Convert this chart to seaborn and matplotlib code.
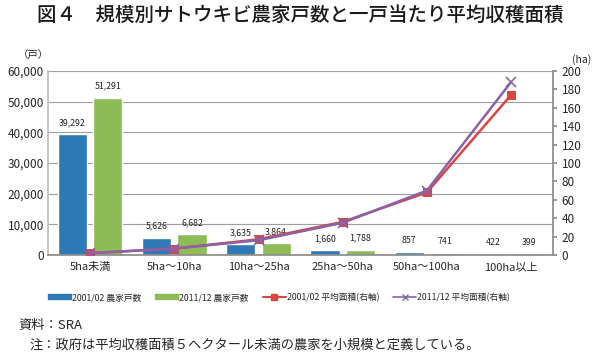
import numpy as np
import pandas as pd
import seaborn as sns
import matplotlib.pyplot as plt
from matplotlib.lines import Line2D
from matplotlib.patches import Patch

sns.set_theme(style="white")
plt.rcParams['font.family'] = ['Noto Sans CJK JP', 'DejaVu Sans']

categories = ["5ha未満", "5ha～10ha", "10ha～25ha", "25ha～50ha", "50ha～100ha", "100ha以上"]
farms_0102 = [39292, 5626, 3635, 1660, 857, 422]
farms_1112 = [51291, 6682, 3864, 1788, 741, 399]
area_0102 = [2, 7, 17, 36, 68, 174]
area_1112 = [2, 7, 16, 35, 70, 188]
series_labels = ["2001/02 農家戸数", "2011/12 農家戸数", "2001/02 平均面積(右軸)", "2011/12 平均面積(右軸)"]

blue = "#2E7AB8"
green = "#8DBB55"
red = "#D9463F"
purple = "#8A62A8"

df = pd.DataFrame({
    "cat": categories * 2,
    "farms": farms_0102 + farms_1112,
    "year": [series_labels[0]] * 6 + [series_labels[1]] * 6,
})

fig = plt.figure(figsize=(6, 3.52), dpi=100)
ax = fig.add_axes([0.08, 0.2756, 0.842, 0.5227])

sns.barplot(data=df, x="cat", y="farms", hue="year", palette=[blue, green],
            width=0.84, gap=0.17, ax=ax, legend=False, saturation=1)
for cont in ax.containers:
    ax.bar_label(cont, labels=[f"{v:,.0f}" for v in cont.datavalues],
                 padding=5, fontsize=6.3, color="#222222")

ax.set_ylim(0, 60000)
ax.set_yticks(range(0, 60001, 10000))
ax.set_yticklabels([f"{v:,}" for v in range(0, 60001, 10000)], fontsize=8.5)
ax.set_xlim(-0.5, 5.5)
ax.set_xlabel("")
ax.set_ylabel("")
ax.tick_params(axis="x", labelsize=8, length=0, pad=5)
ax.tick_params(axis="y", length=0, pad=3)
ax.yaxis.grid(True, color="#A0A0A0", linewidth=0.8)
ax.set_axisbelow(True)
for s in ["top", "right"]:
    ax.spines[s].set_visible(False)
ax.spines["left"].set_color("#BFBFBF")
ax.spines["bottom"].set_color("#8C8C8C")
# category separator ticks on the bottom axis
ax.set_xticks(np.arange(-0.5, 6, 1), minor=True)
ax.tick_params(axis="x", which="minor", length=3, color="#8C8C8C", direction="out")

ax2 = ax.twinx()
x = np.arange(len(categories))
sns.lineplot(x=x, y=area_0102, color=red, marker="s", markersize=6,
             markeredgecolor=red, linewidth=1.8, ax=ax2)
sns.lineplot(x=x, y=area_1112, color=purple, marker="x", markersize=7,
             markeredgecolor=purple, markeredgewidth=1.2, linewidth=1.8, ax=ax2)
ax2.set_ylim(0, 200)
ax2.set_yticks(range(0, 201, 20))
ax2.tick_params(axis="y", labelsize=8.5, length=3, color="#8C8C8C", direction="out", pad=3)
for s in ["top", "left", "bottom"]:
    ax2.spines[s].set_visible(False)
ax2.spines["right"].set_color("#8C8C8C")
ax2.set_xlim(-0.5, 5.5)

fig.text(0.5, 0.955, "図４　規模別サトウキビ農家戸数と一戸当たり平均収穫面積",
         ha="center", va="center", fontsize=14, fontweight="medium", color="#1A1A1A")
fig.text(0.03, 0.842, "（戸）", ha="left", va="center", fontsize=7.5)
fig.text(0.97, 0.83, "(ha)", ha="center", va="center", fontsize=7.5)

handles = [
    Patch(color=blue),
    Patch(color=green),
    Line2D([], [], color=red, marker="s", markersize=4, linewidth=1.5),
    Line2D([], [], color=purple, marker="x", markersize=4, linewidth=1.2),
]
fig.legend(handles, series_labels, loc="center", bbox_to_anchor=(0.465, 0.155),
           ncol=4, fontsize=6.3, frameon=False, handlelength=2.6, handleheight=0.5,
           handletextpad=0.15, columnspacing=1.6)

fig.text(0.03, 0.077, "資料：SRA", ha="left", va="center", fontsize=9.5)
fig.text(0.05, 0.02, "注：政府は平均収穫面積５ヘクタール未満の農家を小規模と定義している。",
         ha="left", va="center", fontsize=9.5)

fig.savefig("out.png", dpi=100, facecolor="white")
